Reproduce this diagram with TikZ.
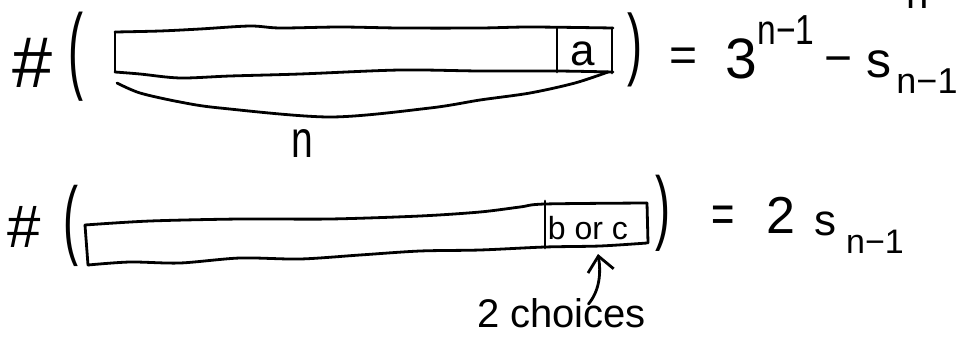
\documentclass[tikz,border=0pt]{standalone}
\usepackage{fontspec}
\setmainfont{Liberation Sans}
\usetikzlibrary{arrows.meta}
\newcommand{\fs}[1]{\fontsize{#1}{#1}\selectfont}
\begin{document}
\begin{tikzpicture}[x=1pt,y=-1pt,
  pen/.style={line width=2.8pt,line cap=round,line join=round},
  txt/.style={inner sep=0pt,outer sep=0pt,anchor=base},
  paren/.style={inner sep=0pt,outer sep=0pt,font=\fs{45}},
  arr/.style={pen,-{Straight Barb[length=15pt,width=26pt,line width=2.8pt]}}]
\useasboundingbox (0,0) rectangle (963,343);
% ---------- row 1 ----------
\node[txt,font=\fs{72}] (hashA) at (33,87) {\#};
\node[paren,yscale=2.13] (lpA) at (76,57) {(};
% bar 1
\draw[pen] plot[smooth] coordinates {(115,32) (160,31) (200,29) (250,26) (280,28) (340,27) (400,28) (480,28) (530,27) (613,28)};
\draw[pen] plot[smooth] coordinates {(115,72) (140,74) (180,78) (230,76) (300,74) (400,70) (480,71) (557,71) (613,72)};
\draw[pen] (115,32) -- (115,72);
\draw[pen] (557,28) -- (557,72);
\draw[pen] (612,28) -- (612,73);
\node[txt,font=\fs{44}] (a) at (583,65) {a};
% brace
\draw[pen] plot[smooth] coordinates {(117,83) (140,93) (180,102) (220,108) (330,117) (430,108) (480,100) (530,93) (575,83) (608,72)};
\node[txt,font=\fs{52},xscale=0.75] (nlab) at (302,157) {n};
\node[paren,yscale=1.77] (rpA) at (635,50) {)};
\node[txt,font=\fs{48}] (eqA) at (684,71) {=};
\node[txt,font=\fs{57}] (three) at (741,78) {3};
\node[txt,font=\fs{42},xscale=0.8] (supA) at (786,44) {n−1};
\node[txt,font=\fs{48}] (minA) at (839,74) {−};
\node[txt,font=\fs{50}] (sA) at (879,77) {s};
\node[txt,font=\fs{36}] (subA) at (927,93) {n−1};
\node[txt,font=\fs{40}] (ntop) at (918,8) {n};
% ---------- row 2 ----------
\node[txt,font=\fs{60}] (hashB) at (24,247) {\#};
\node[paren,yscale=1.94] (lpB) at (71,226) {(};
\draw[pen] plot[smooth] coordinates {(85,225) (150,221) (240,219) (330,219) (420,216) (480,212) (520,207) (545,204) (647,203)};
\draw[pen] plot[smooth] coordinates {(88,265) (130,262) (180,263) (240,258) (300,259) (360,255) (420,251) (480,250) (545,247) (600,246) (647,243)};
\draw[pen] (85,225) -- (88,265);
\draw[pen] (545,201) -- (545,248);
\draw[pen] (647,203) -- (648,243);
\node[txt,font=\fs{32}] (borc) at (588,239) {b or c};
\node[paren,yscale=1.82] (rpB) at (663,213) {)};
\node[txt,font=\fs{40},yscale=1.35] (eqB) at (723,232) {=};
\node[txt,font=\fs{52}] (two) at (781,233) {2};
\node[txt,font=\fs{44}] (sB) at (825,235) {s};
\node[txt,font=\fs{34}] (subB) at (875,253) {n−1};
\node[txt,font=\fs{40},anchor=base west] (choices) at (477,327) {2 choices};
\coordinate (tip) at (598,254);
\draw[arr] ([shift={(27,6)}]choices.north) .. controls (600,290) and (601,272) .. (tip);
\end{tikzpicture}
\end{document}
